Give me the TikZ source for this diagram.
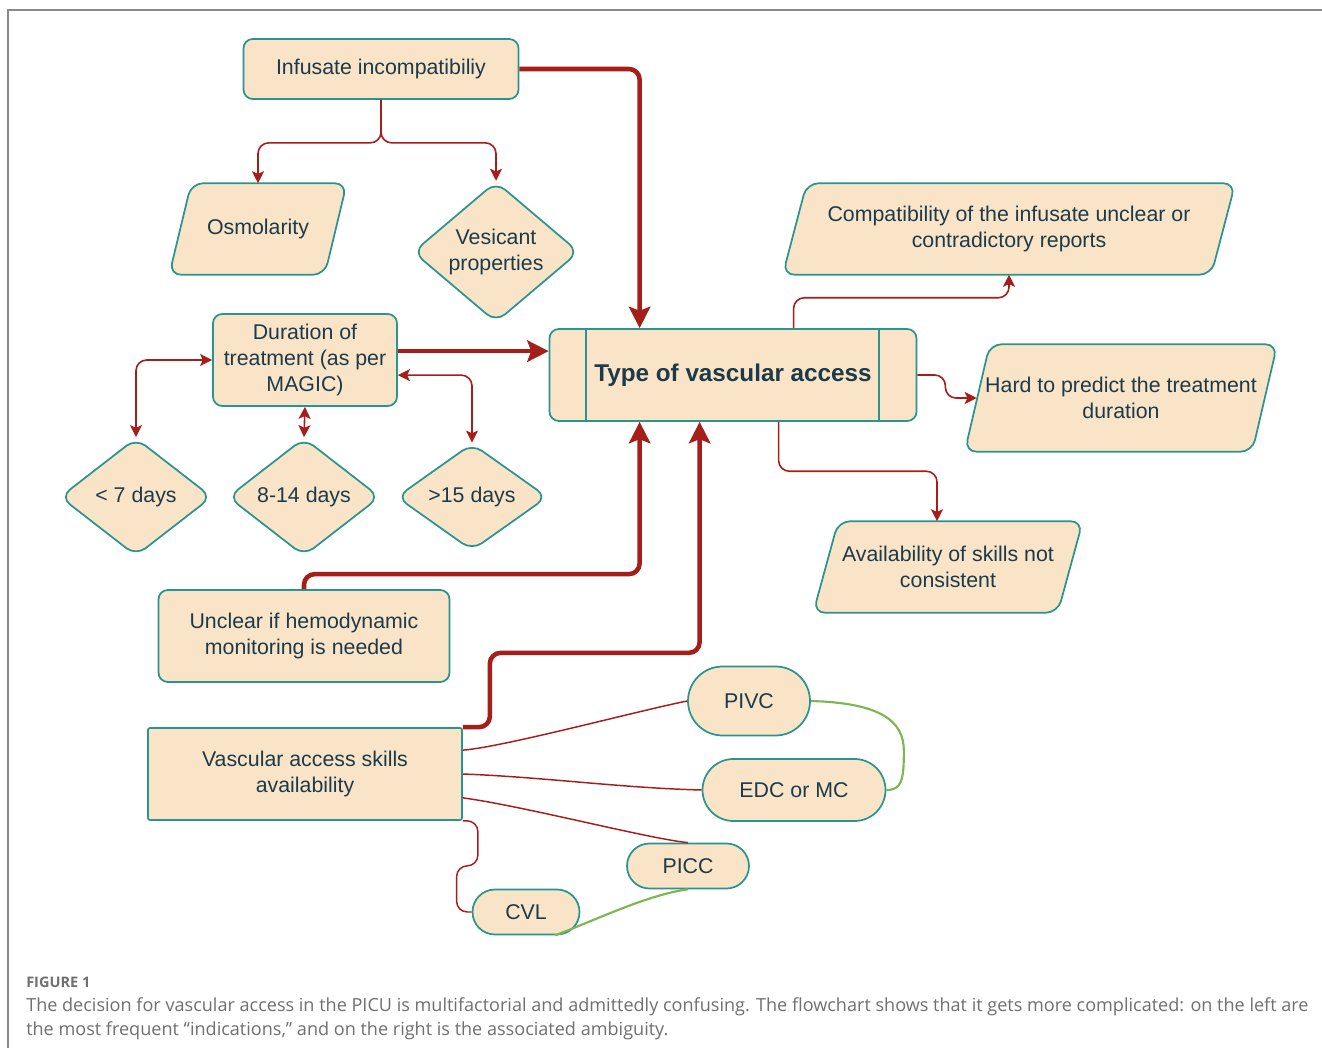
\documentclass[tikz,border=0pt]{standalone}
\usepackage{fontspec}
\setmainfont{Liberation Sans}
\newfontfamily\capfont{Open Sans}
\usetikzlibrary{shapes.geometric,shapes.misc,arrows.meta,calc,backgrounds}
\definecolor{fillc}{HTML}{FAE4C7}
\definecolor{edgec}{HTML}{2A9490}
\definecolor{redc}{HTML}{A61E1A}
\definecolor{greenc}{HTML}{7DB652}
\definecolor{txtc}{HTML}{1C3A4A}
\definecolor{capc}{HTML}{707070}
\definecolor{framec}{HTML}{8A8A8A}
\def\pu{0.75pt}
\newcommand\parashape[2]{%
  \begin{scope}[on background layer]
  \draw[draw=edgec, fill=fillc, line width=1.3pt, rounded corners=9pt]
    ($(#1.north west)+(#2,0)$) -- (#1.north east) -- ($(#1.south east)+(-#2,0)$) -- (#1.south west) -- cycle;
  \end{scope}}
\begin{document}
\begin{tikzpicture}[x=0.75pt,y=-0.75pt,
  box/.style={draw=edgec, fill=fillc, line width=1.3pt, text=txtc,
    font=\fontsize{16}{19.5}\selectfont, align=center, inner sep=0pt},
  rbox/.style={box, rectangle, rounded corners=7pt},
  para/.style={rectangle, text=txtc, font=\fontsize{16}{19.5}\selectfont, align=center, inner sep=0pt},
  dia/.style={box, diamond, rounded corners=9pt},
  pill/.style={box, rounded rectangle},
  bigarrow/.style={draw=redc, line width=3.4pt, rounded corners=8pt,
    -{Stealth[length=16pt,width=16pt,inset=3pt]}},
  thinarrow/.style={draw=redc, line width=1.2pt, rounded corners=8pt,
    -{Stealth[length=9pt,width=9pt,inset=2pt]}},
  thinboth/.style={draw=redc, line width=1.2pt, rounded corners=8pt,
    {Stealth[length=9pt,width=9pt,inset=2pt]}-{Stealth[length=9pt,width=9pt,inset=2pt]}},
  thinline/.style={draw=redc, line width=1.1pt},
  greenline/.style={draw=greenc, line width=1.6pt},
  captxt/.style={anchor=base west, inner sep=0pt, text=capc, font=\capfont\fontsize{13.55}{15}\selectfont}
]
\useasboundingbox (0,0) rectangle (1322,1048);
\begin{scope}[on background layer]
\fill[white] (0,0) rectangle (1322,1048);
\end{scope}
\draw[framec, line width=1pt] (1322,10) -- (8,10) -- (8,1048);

% nodes
\node[rbox, minimum width=275*\pu, minimum height=60*\pu] (inf) at (381,69) {Infusate incompatibiliy};
\node[para, minimum width=177*\pu, minimum height=91*\pu] (osm) at (258,229) {Osmolarity};
\parashape{osm}{22}
\node[dia, minimum width=166*\pu, minimum height=134*\pu] (ves) at (496,252) {Vesicant\\properties};
\node[rbox, minimum width=184*\pu, minimum height=92*\pu] (dur) at (305,360) {Duration of\\treatment (as per\\MAGIC)};
\node[rbox, minimum width=367*\pu, minimum height=92*\pu, font=\fontsize{18.2}{21}\selectfont\bfseries] (type) at (733,375) {Type of vascular access};
\draw[edgec, line width=1.3pt] ($(type.north west)+(37,0)$) -- ($(type.south west)+(37,0)$);
\draw[edgec, line width=1.3pt] ($(type.north west)+(330,0)$) -- ($(type.south west)+(330,0)$);
\node[dia, minimum width=152*\pu, minimum height=118*\pu] (d7) at (136,497) {< 7 days};
\node[dia, minimum width=152*\pu, minimum height=118*\pu] (d814) at (304,497) {8-14 days};
\node[dia, minimum width=151*\pu, minimum height=106*\pu] (d15) at (472,497) {>15 days};
\node[rbox, minimum width=291*\pu, minimum height=92*\pu] (unc) at (304,636) {Unclear if hemodynamic\\monitoring is needed};
\node[box, rectangle, rounded corners=1.5pt, minimum width=314*\pu, minimum height=92*\pu] (vas) at (305,774) {Vascular access skills\\availability};
\node[pill, minimum width=122*\pu, minimum height=69*\pu] (pivc) at (749,701) {PIVC};
\node[pill, minimum width=183*\pu, minimum height=62*\pu] (edc) at (794,790) {EDC or MC};
\node[pill, minimum width=122*\pu, minimum height=45*\pu] (picc) at (688,866) {PICC};
\node[pill, minimum width=107*\pu, minimum height=45*\pu] (cvl) at (526,912) {CVL};
\node[para, minimum width=452*\pu, minimum height=91*\pu] (comp) at (1009,229) {Compatibility of the infusate unclear or\\contradictory reports};
\parashape{comp}{24}
\node[para, minimum width=312*\pu, minimum height=107*\pu] (hard) at (1121,398) {Hard to predict the treatment\\duration};
\parashape{hard}{25}
\node[para, minimum width=269*\pu, minimum height=91*\pu] (avail) at (948,567) {Availability of skills not\\consistent};
\parashape{avail}{25}

% connectors
\draw[bigarrow] (inf.east) -| ($(type.north west)+(91,0)$);
\coordinate (brk) at ($(inf.south)+(0,43)$);
\draw[thinarrow] (inf.south) -- (brk) -| (osm.north);
\draw[thinarrow] (inf.south) -- (brk) -| (ves.north);
\draw[bigarrow] ($(dur.north east)+(0,38)$) -- ($(type.north west)+(0,23)$);
\draw[thinboth] (d7.north) |- (dur.west);
\draw[thinboth] (dur.south) -- (d814.north);
\draw[thinboth] ($(dur.north east)+(0,62)$) -| (d15.north);
\draw[bigarrow] (unc.north) -- ++(0,-15) -| ($(type.south west)+(91,0)$);
\draw[bigarrow] (vas.north east) -- ++(27,0) |- ($(type.south west)+(151,231)$) -- ($(type.south west)+(151,0)$);
\draw[thinarrow] ($(type.north west)+(245,0)$) |- ($(comp.south)+(0,23)$) -- (comp.south);
\draw[thinarrow] (type.east) -- ++(28,0) |- ($(hard.west)+(12,0)$);
\draw[thinarrow] ($(type.south west)+(230,0)$) |- ($(avail.north)+(-11,-50)$) -- ($(avail.north)+(-11,0)$);

\draw[thinline] ($(vas.north east)+(0,23)$) .. controls +(40,-3) and +(-50,10) .. (pivc.west);
\draw[thinline] (vas.east) .. controls +(80,3) and +(-80,-2) .. (edc.west);
\draw[thinline] ($(vas.south east)+(0,-23)$) .. controls +(60,8) and +(-40,-4) .. (picc.north);
\draw[thinline, rounded corners=8pt] (vas.south east) -| ($(vas.south east)+(15,45)$) -| ($(cvl.west)+(-15,0)$) -- (cvl.west);
\draw[greenline] (pivc.east) .. controls +(70,2) and +(0,-30) .. ++(93,50) .. controls +(0,30) and +(15,0) .. (edc.east);
\draw[greenline] (picc.south) .. controls +(-40,5) and +(40,-15) .. ($(cvl.south)+(29,0)$);

% caption
\node[anchor=base west, inner sep=0pt, text=capc, font=\capfont\bfseries\fontsize{10.9}{12}\selectfont] (fig) at (26,987) {FIGURE 1};
\node[captxt] (cap1) at (26,1011) {The decision for vascular access in the PICU is multifactorial and admittedly confusing. The flowchart shows that it gets more complicated: on the left are};
\node[captxt] (cap2) at (26,1035) {the most frequent “indications,” and on the right is the associated ambiguity.};
\end{tikzpicture}
\end{document}
